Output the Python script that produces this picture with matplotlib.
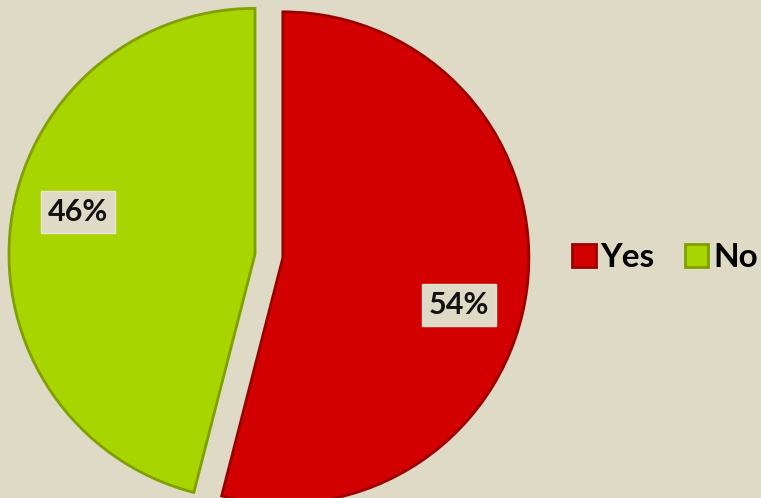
import numpy as np
import matplotlib.pyplot as plt

labels = ['Yes', 'No']
shares = [54, 46]
colors = ['#D20000', '#A8D400']
edges = ['#9A0000', '#7FA000']
bg = '#DEDAC6'

fig = plt.figure(figsize=(7.61, 4.98), dpi=100, facecolor=bg)
ax = fig.add_axes([0, 0, 1, 1])
ax.set_facecolor(bg)

wedges, texts, pcts = ax.pie(
    shares, colors=colors, startangle=90, counterclock=False,
    explode=[0.057, 0.057], autopct='%d%%', pctdistance=0.78,
    wedgeprops=dict(linewidth=2),
    textprops=dict(fontsize=22, fontweight='bold', family='Lato', color='#111111'))
for w, ec in zip(wedges, edges):
    w.set_edgecolor(ec)

# label boxes sit in the lower right of the red slice and mid-left of the green one
pcts[0].set_position((0.772, -0.199))
pcts[1].set_position((-0.776, 0.179))
for t in pcts:
    t.set_bbox(dict(boxstyle='square,pad=0.22', facecolor=bg, edgecolor='#EAE6D6', linewidth=1))

ax.set_aspect('auto')
ax.set_xlim(-1.093, 2.0)
ax.set_ylim(-0.984, 1.041)
ax.axis('off')

leg = ax.legend(wedges, labels, loc='center', bbox_to_anchor=(0.874, 0.482),
                ncol=2, frameon=False, handlelength=0.7, handleheight=0.7,
                handletextpad=0.15, columnspacing=0.9,
                prop=dict(size=24, weight='bold', family='Lato'))

fig.savefig('out.png', dpi=100, facecolor=bg)
